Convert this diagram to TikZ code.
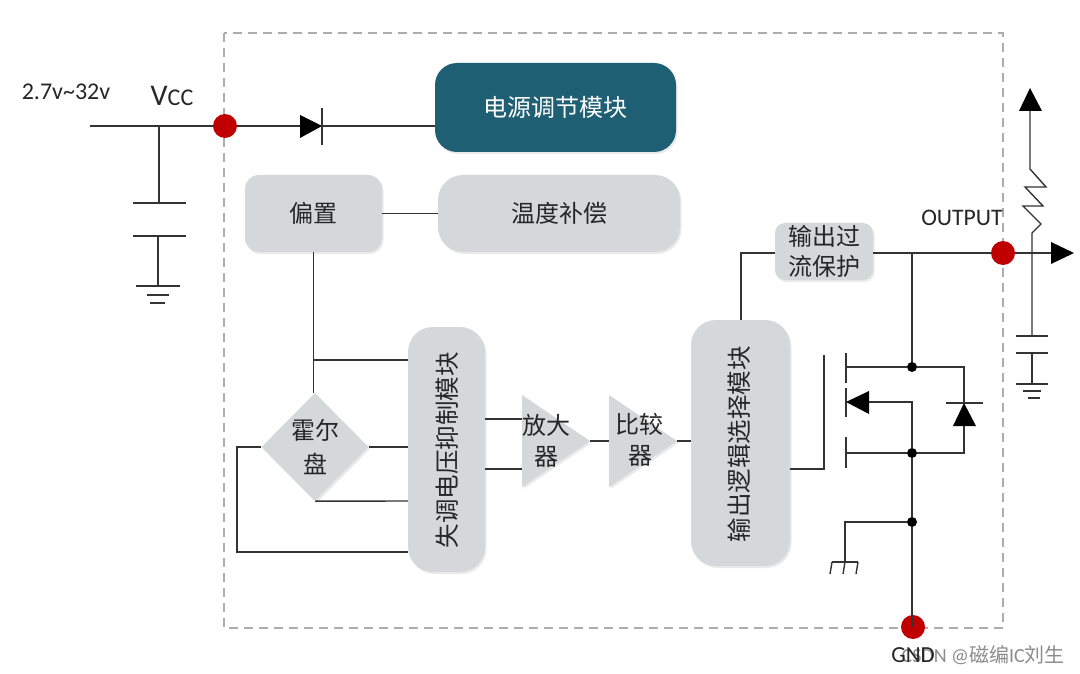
\documentclass[tikz,border=0pt]{standalone}
\usepackage{fontspec}
\setmainfont{Carlito}
\newfontfamily\cjk{Noto Sans CJK SC}
\usetikzlibrary{shapes.geometric,shadows}
\definecolor{boxgray}{HTML}{D5D7D8}
\definecolor{teal1}{HTML}{1F5F73}
\definecolor{red1}{HTML}{C00000}
\definecolor{wire}{HTML}{333333}
\tikzset{
  x=1pt,y=-1pt,
  softshadow/.style={drop shadow={shadow xshift=1.5pt,shadow yshift=-2pt,opacity=.18,fill=black!45}},
  boxnode/.style={fill=boxgray,inner sep=0pt,softshadow,align=center,font=\cjk\fontsize{24}{31}\selectfont,text=black!85},
  wireline/.style={draw=wire,line width=1.5pt},
  thinwire/.style={draw=wire,line width=1.4pt},
  reddot/.style={circle,fill=red1,minimum size=24pt,inner sep=0pt},
  blackdot/.style={circle,fill=black,minimum size=10pt,inner sep=0pt},
  glyph/.style={fill=black,draw=none},
  tri/.style={fill=boxgray,draw=none,softshadow},
  lab/.style={inner sep=0pt,text=black!85},
}
\begin{document}
\begin{tikzpicture}
\useasboundingbox (0,0) rectangle (1080,674);
\fill[white] (0,0) rectangle (1080,674);
% frame
\draw[draw=black!32,line width=1.5pt,dash pattern=on 9pt off 6pt] (224,33) rectangle (1003,628);

% boxes
\node[boxnode,fill=teal1,text=white,rounded corners=22pt,minimum width=241pt,minimum height=89pt] (power) at (555.5,107.5) {电源调节模块};
\node[boxnode,rounded corners=14pt,minimum width=137pt,minimum height=77pt] (bias) at (313.5,213.5) {偏置};
\node[boxnode,rounded corners=25pt,minimum width=242pt,minimum height=77pt] (temp) at (559,213.5) {温度补偿};
\node[boxnode,rounded corners=10pt,minimum width=98pt,minimum height=57pt] (ocp) at (824,251.5) {输出过\\[-1pt]流保护};
\node[boxnode,rounded corners=25pt,minimum width=77pt,minimum height=245pt] (offset) at (446.5,449.5) {};
\node[lab,rotate=90,font=\cjk\fontsize{24.5}{24}\selectfont] (offsettext) at (447,450) {失调电压抑制模块};
\node[boxnode,rounded corners=25pt,minimum width=99pt,minimum height=246pt] (logic) at (740.5,443) {};
\node[lab,rotate=90,font=\cjk\fontsize{24.5}{24}\selectfont] (logictext) at (739,444) {输出逻辑选择模块};
\node[boxnode,diamond,aspect=1,minimum width=107pt,minimum height=108pt,font=\cjk\fontsize{24}{34}\selectfont] (hall) at (315,447) {霍尔\\盘};

% amplifier and comparator
\coordinate (ampa) at (522,395); \coordinate (ampb) at (522,487); \coordinate (ampc) at (590,441);
\coordinate (cmpa) at (609,395); \coordinate (cmpb) at (609,487); \coordinate (cmpc) at (677,441);
\fill[tri] (ampa) -- (ampc) -- (ampb) -- cycle;
\fill[tri] (cmpa) -- (cmpc) -- (cmpb) -- cycle;
\node[lab,font=\cjk\fontsize{24}{24}\selectfont] (amptext1) at (546,425) {放大};
\node[lab,font=\cjk\fontsize{24}{24}\selectfont] (amptext2) at (546,457) {器};
\node[lab,font=\cjk\fontsize{24}{24}\selectfont] (cmptext1) at (639,424) {比较};
\node[lab,font=\cjk\fontsize{24}{24}\selectfont] (cmptext2) at (640,456) {器};

% named points
\coordinate (vin) at (90,126);
\coordinate (capTop) at (159,126);
\coordinate (diodeA) at (300,126);
\coordinate (diodeK) at (322,126);
\node[blackdot] (drainDot) at (912,367) {};
\node[blackdot] (srcDot) at (912,453) {};
\node[blackdot] (gndDot) at (912,522) {};
\node[reddot] (vccDot) at (225,126) {};
\node[reddot] (outDot) at (1003,253) {};
\node[reddot] (gndPin) at (913,627) {};
\coordinate (outTap) at (912,253);
\coordinate (outTip) at (1051,253);

\draw[wireline] (vin) -- (vccDot);
\draw[wireline] (vccDot) -- (diodeA);
\draw[wireline] (diodeK) -- (power.west |- diodeK);
\draw[wireline] (bias.east) -- (temp.west);
\draw[wireline] (capTop) -- (159,203);
\draw[wireline] (133,203) -- (186,203);
\draw[wireline] (133,236) -- (186,236);
\draw[wireline] (158,236) -- (158,286);
\draw[wireline] (136,286) -- (180,286);
\draw[wireline] (147,295) -- (169,295);
\draw[wireline] (150,303) -- (165,303);
% diode
\fill[glyph] (300,115) -- (322,126) -- (300,138) -- cycle;
\draw[wireline] (322,108) -- (322,145);

% hall and offset wiring
\draw[thinwire] (bias.south) -- (bias.south |- hall.north);
\draw[thinwire] (313.5,360) -- (offset.west |- 0,360);
\draw[thinwire] (hall.east) -- (offset.west |- hall.east);
\draw[thinwire] (hall.south) -- (offset.west |- 0,501);
\draw[thinwire] (hall.west) -- (237,447) -- (237,552) -- (offset.west |- 0,552);
\draw[thinwire] (offset.east |- 0,419) -- (ampa |- 0,419);
\draw[thinwire] (offset.east |- 0,469) -- (ampa |- 0,469);
\draw[thinwire] (ampc) -- (cmpa |- ampc);
\draw[thinwire] (cmpc) -- (logic.west |- cmpc);

% logic to output
\draw[thinwire] (741,320) -- (741,253) -- (ocp.west |- 0,253);
\draw[wireline] (ocp.east |- 0,253) -- (outDot);
\draw[wireline] (outDot) -- (outTip);
\fill[glyph] (1051,242) -- (1074,253) -- (1051,264) -- cycle;
\draw[wireline] (outTap) -- (drainDot);
\draw[wireline] (srcDot) -- (gndDot);
\draw[wireline] (gndDot) -- (gndDot |- gndPin);

% MOSFET
\draw[thinwire] (logic.east |- 0,469) -- (824,469) -- (824,355);
\draw[thinwire] (846,353) -- (846,383);
\draw[thinwire] (846,388) -- (846,417);
\draw[thinwire] (846,437) -- (846,468);
\draw[thinwire] (846,367) -- (drainDot);
\draw[thinwire] (846,453) -- (srcDot);
\draw[thinwire] (869,402) -- (912,402) -- (srcDot);
\fill[glyph] (846,402) -- (869,391) -- (869,414) -- cycle;
\draw[thinwire] (drainDot) -- (964,367) -- (964,403);
\draw[thinwire] (964,426) -- (964,453) -- (srcDot);
\draw[thinwire] (946,403) -- (983,403);
\fill[glyph] (964,403) -- (976,426) -- (953,426) -- cycle;
% chassis ground
\draw[thinwire] (gndDot) -- (845,522) -- (845,562);
\draw[thinwire] (832,562) -- (858,562);
\draw[thinwire] (832,562) -- (830,574);
\draw[thinwire] (845,562) -- (843,574);
\draw[thinwire] (858,562) -- (856,574);

% pull-up and load
\fill[glyph] (1030,88) -- (1042,111) -- (1019,111) -- cycle;
\draw[thinwire] (1030,111) -- (1030,169) -- (1046,187) -- (1025,187) -- (1043,206) -- (1023,206) -- (1041,224) -- (1032,233) -- (1032,336);
\draw[thinwire] (1016,336) -- (1048,336);
\draw[thinwire] (1016,353) -- (1048,353);
\draw[thinwire] (1032,353) -- (1032,384);
\draw[thinwire] (1016,384) -- (1048,384);
\draw[thinwire] (1023,391) -- (1041,391);
\draw[thinwire] (1028,398) -- (1040,398);

% labels
\node[lab,font=\fontsize{24}{24}\selectfont] (vinlabel) at (66,92) {2.7v\textasciitilde 32v};
\node[lab,font=\fontsize{30}{30}\selectfont] (vcclabel) at (172,96) {V{\fontsize{24}{24}\selectfont CC}};
\node[lab,font=\fontsize{23.7}{24}\selectfont] (outlabel) at (962,218) {OUTPUT};
\node[lab,text=black!45,anchor=east,font=\fontsize{20}{20}\selectfont] (mark) at (1065,655) {CSDN @{\cjk 磁编}IC{\cjk 刘生}};
\node[lab,font=\fontsize{23}{23}\selectfont] (gndlabel) at (913,655) {GND};
\end{tikzpicture}
\end{document}
